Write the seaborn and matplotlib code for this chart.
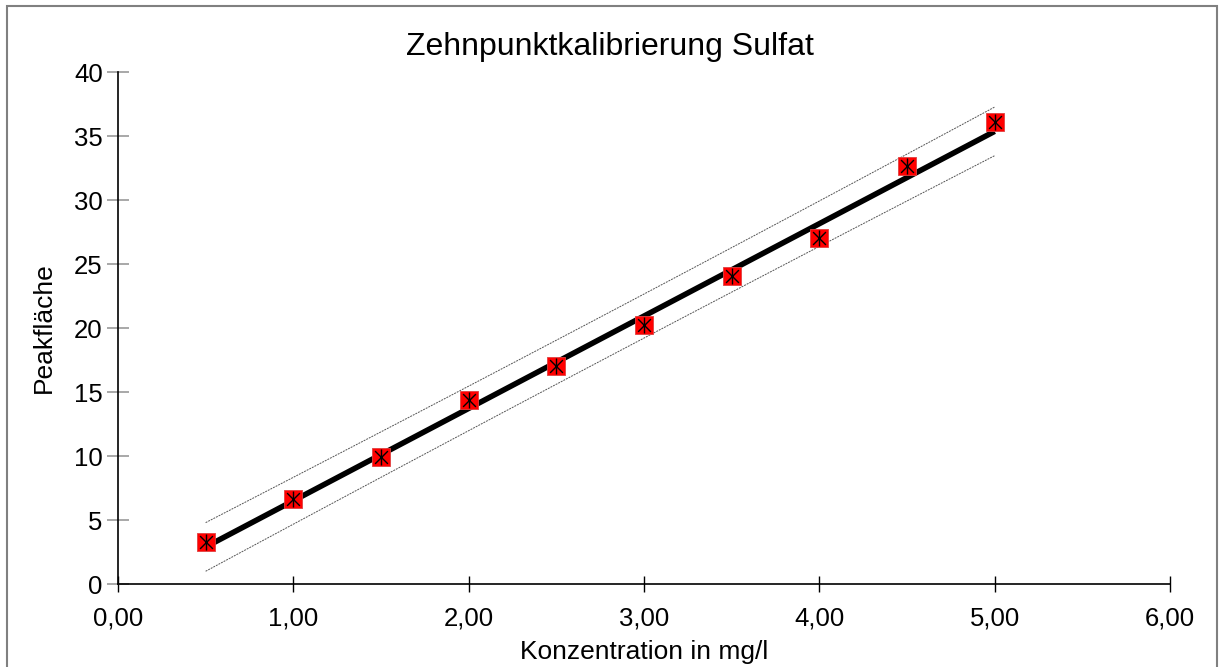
import numpy as np
import pandas as pd
import matplotlib
matplotlib.use("Agg")
import matplotlib.pyplot as plt
from matplotlib.patches import Rectangle
import seaborn as sns

# Calibration data: sulfate concentration (mg/l) vs. peak area
konzentration = [0.5, 1.0, 1.5, 2.0, 2.5, 3.0, 3.5, 4.0, 4.5, 5.0]
peakflaeche = [3.28, 6.64, 9.92, 14.37, 17.03, 20.23, 24.06, 27.03, 32.66, 36.09]

x_ticks = [0, 1, 2, 3, 4, 5, 6]
x_ticklabels = ["0,00", "1,00", "2,00", "3,00", "4,00", "5,00", "6,00"]
y_ticks = [0, 5, 10, 15, 20, 25, 30, 35, 40]

sns.set_theme(style="white")
plt.rcParams["font.family"] = ["Liberation Sans", "DejaVu Sans"]

df = pd.DataFrame({"x": konzentration, "y": peakflaeche})

# Linear least-squares fit and 95 % prediction band
x = np.asarray(konzentration)
y = np.asarray(peakflaeche)
n = len(x)
slope, intercept = np.polyfit(x, y, 1)
resid = y - (intercept + slope * x)
s = np.sqrt(np.sum(resid ** 2) / (n - 2))
sxx = np.sum((x - x.mean()) ** 2)
t_val = 2.306  # t(0.975, n-2=8)
xf = np.linspace(x.min(), x.max(), 100)
yf = intercept + slope * xf
half = t_val * s * np.sqrt(1 + 1 / n + (xf - x.mean()) ** 2 / sxx)
fit = pd.DataFrame({"x": xf, "fit": yf, "upper": yf + half, "lower": yf - half})

fig = plt.figure(figsize=(12.2, 6.67), dpi=100)
ax = fig.add_axes([0.0967, 0.1244, 0.8623, 0.7676])

# Chart-area frame
fig.patches.append(Rectangle((7 / 1220, -0.05), 1210 / 1220, 1.05 - 6 / 667,
                             transform=fig.transFigure, fill=False,
                             edgecolor="#808080", linewidth=1.5, zorder=0))

sns.lineplot(data=fit, x="x", y="upper", ax=ax, color="#555555", lw=0.7,
             linestyle=(0, (2, 1)), zorder=2)
sns.lineplot(data=fit, x="x", y="lower", ax=ax, color="#555555", lw=0.7,
             linestyle=(0, (2, 1)), zorder=2)
sns.lineplot(data=fit, x="x", y="fit", ax=ax, color="black", lw=4.0,
             solid_capstyle="butt", zorder=3)

sns.scatterplot(data=df, x="x", y="y", ax=ax, marker="s", s=150,
                color="#ff0000", edgecolor="#e04040", linewidth=0.6, zorder=4)
sns.scatterplot(data=df, x="x", y="y", ax=ax, marker="x", s=85,
                color="black", linewidth=1.0, zorder=5)
sns.scatterplot(data=df, x="x", y="y", ax=ax, marker="|", s=130,
                color="black", linewidth=1.0, zorder=5)

ax.set_xlim(0, 6)
ax.set_ylim(0, 40)
ax.set_xticks(x_ticks)
ax.set_xticklabels(x_ticklabels)
ax.set_yticks(y_ticks)

for side in ("top", "right"):
    ax.spines[side].set_visible(False)
for side in ("left", "bottom"):
    ax.spines[side].set_color("black")
    ax.spines[side].set_linewidth(1.2)

ax.tick_params(axis="x", direction="inout", length=12, width=1.0,
               color="black", labelsize=18.5, pad=10, bottom=True)
ax.tick_params(axis="y", direction="inout", length=16, width=1.2,
               color="#999999", labelsize=18.5, pad=3, left=True)
for lab in ax.get_xticklabels() + ax.get_yticklabels():
    lab.set_color("black")

fig.text(0.5, 1 - 47 / 667, "Zehnpunktkalibrierung Sulfat", fontsize=23,
         color="black", ha="center", va="center")
ax.set_xlabel("Konzentration in mg/l", fontsize=19, color="black", labelpad=7)
ax.set_ylabel("Peakfläche", fontsize=19, color="black", labelpad=13)

fig.savefig("out.png", dpi=100)
